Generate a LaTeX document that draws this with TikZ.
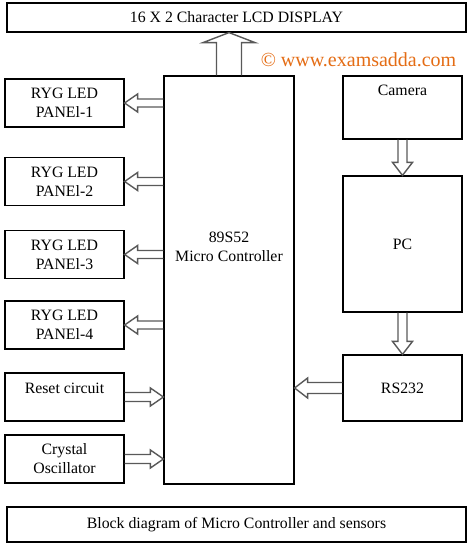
\documentclass[tikz,border=0pt]{standalone}
\usepackage{fontspec}
\setmainfont{Liberation Serif}
\usetikzlibrary{calc,positioning}

\definecolor{markorange}{RGB}{228,108,20}

\tikzset{
    blk/.style={draw, line width=1.2pt, minimum width=119pt, inner sep=0pt, align=center,
                font=\fontsize{15.8}{19}\selectfont},
    txt/.style={inner sep=0pt, align=center, font=\fontsize{15.8}{19}\selectfont},
    fatarrow/.style={draw=black!65, line width=1.4pt, line join=miter},
}

% hollow block arrow: from, to, half shaft, half head, head length
\newcommand{\hollowarrow}[5]{%
    \path ($(#2)!#5!(#1)$) coordinate (ah);
    \draw[fatarrow] ($(#1)!#3!90:(#2)$) -- ($(ah)!#3!-90:(#1)$) -- ($(ah)!#4!-90:(#1)$)
        -- (#2) -- ($(ah)!#4!90:(#1)$) -- ($(ah)!#3!90:(#1)$) -- ($(#1)!#3!-90:(#2)$);
}

\begin{document}
\begin{tikzpicture}[x=1pt, y=-1pt]
    \useasboundingbox (0,0) rectangle (470,548);

    % display on top
    \node[blk, minimum width=459pt, minimum height=29pt] (lcd) at (236.5,17.5) {16 X 2 Character LCD DISPLAY};

    % watermark
    \node[text=markorange, inner sep=0pt, font=\fontsize{20}{24}\selectfont] (mark) at (358.5,60) {© www.examsadda.com};

    % controller
    \node[blk, minimum width=130pt, minimum height=408pt] (mc) at (229,280) {};
    \node[txt] (mctext) at (229,247) {89S52\\Micro Controller};

    % LED panels
    \foreach \i/\y in {1/103, 2/181.5, 3/254.5, 4/325} {
        \node[blk, minimum height=48pt] (panel\i) at (64.5,\y) {RYG LED\\PANEl-\i};
    }

    % reset and clock
    \node[blk, minimum height=48pt] (reset) at (64.5,397) {};
    \node[txt, below=10pt of reset.north] (resettext) {Reset circuit};
    \node[blk, minimum height=48pt] (crystal) at (64.5,459) {Crystal\\Oscillator};

    % right hand chain
    \node[blk, minimum height=63pt] (camera) at (402.5,107.5) {};
    \node[txt, below=9pt of camera.north] (camtext) {Camera};
    \node[blk, minimum height=136pt] (pc) at (402.5,244) {PC};
    \node[blk, minimum height=66pt] (rs) at (402.5,388) {RS232};

    % caption
    \node[blk, minimum width=459pt, minimum height=35pt] (caption) at (236.5,524.5) {Block diagram of Micro Controller and sensors};

    % arrows
    \hollowarrow{mc.north}{mc.north |- lcd.south}{12.5pt}{26pt}{10pt}
    \foreach \i in {1,...,4} {
        \hollowarrow{mc.west |- panel\i}{panel\i.east}{4pt}{9pt}{13pt}
    }
    \hollowarrow{reset.east}{mc.west |- reset}{4.5pt}{9pt}{13pt}
    \hollowarrow{crystal.east}{mc.west |- crystal}{4.5pt}{9pt}{13pt}
    \hollowarrow{camera.south}{pc.north}{4.5pt}{10pt}{13pt}
    \hollowarrow{pc.south}{rs.north}{4.5pt}{10pt}{13pt}
    \hollowarrow{rs.west}{mc.east |- rs}{5.5pt}{10pt}{13pt}
\end{tikzpicture}
\end{document}
